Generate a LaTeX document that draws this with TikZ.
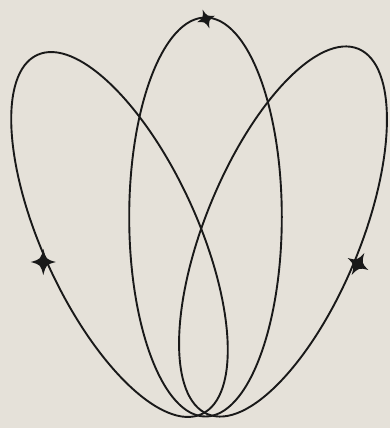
\documentclass[tikz,border=0pt]{standalone}
\begin{document}
\begin{tikzpicture}[x=1pt,y=-1pt,
  ink/.style={draw=black!90, line width=1.9pt},
  star4/.pic={\fill[black!90] (1,0) .. controls (0.22,0.22) .. (0,1.05) .. controls (-0.22,0.22) .. (-1,0) .. controls (-0.22,-0.22) .. (0,-1.05) .. controls (0.22,-0.22) .. cycle;}]
\definecolor{paper}{RGB}{229,225,217}
\fill[paper] (0,0) rectangle (390,428);
\useasboundingbox (0,0) rectangle (390,428);
% centres
\coordinate (cm) at (205.5,217);
\coordinate (cl) at (119.5,234.5);
\coordinate (cr) at (283,231.5);
% ellipses
\draw[ink] (cm) ellipse [x radius=76.3, y radius=199.5];
\draw[ink, rotate around={24.6:(cl)}] (cl) ellipse [x radius=77.5, y radius=197.5];
\draw[ink, rotate around={-22.4:(cr)}] (cr) ellipse [x radius=77.5, y radius=197.6];
% stars
\coordinate (st) at (206,19);
\coordinate (sl) at (43.3,262);
\coordinate (sr) at (358,264);
\pic[rotate=20, scale=9.5] at (st) {star4};
\pic[scale=12.5] at (sl) {star4};
\pic[rotate=-30, scale=12] at (sr) {star4};
\end{tikzpicture}
\end{document}
